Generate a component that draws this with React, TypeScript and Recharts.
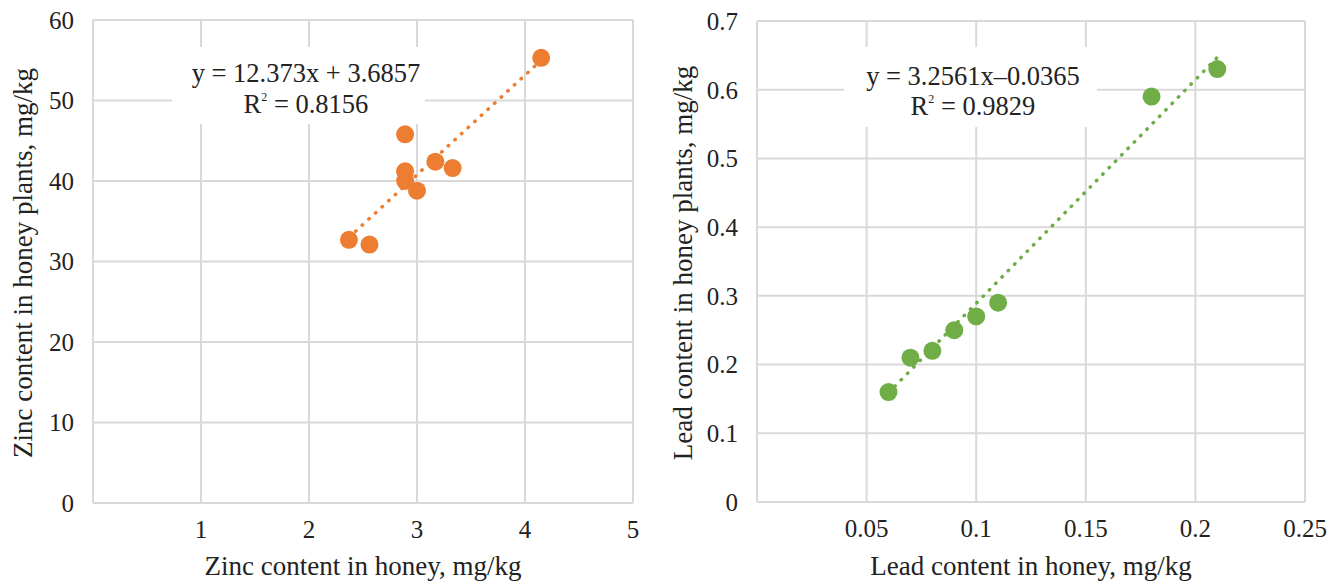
import { ScatterChart, Scatter, XAxis, YAxis, CartesianGrid } from 'recharts';

const ORANGE = '#ED7D31';
const GREEN = '#70AD47';
const GRID = '#d9d9d9';
const TEXT = '#222';
const FONT = 'Liberation Serif';

// Zinc: honey (x) vs honey plants (y), mg/kg
const zincHoney = [2.37, 2.56, 2.89, 2.89, 2.89, 3.0, 3.17, 3.33, 4.15];
const zincPlants = [32.7, 32.1, 45.8, 41.2, 40.0, 38.8, 42.4, 41.6, 55.3];
const zincTrendX = [2.37, 4.15];
const zincTrendY = [33.0, 55.0];
const zincXTicks = [0, 1, 2, 3, 4, 5];
const zincYTicks = [0, 10, 20, 30, 40, 50, 60];

// Lead: honey (x) vs honey plants (y), mg/kg
const leadHoney = [0.06, 0.07, 0.08, 0.09, 0.1, 0.11, 0.18, 0.21];
const leadPlants = [0.16, 0.21, 0.22, 0.25, 0.27, 0.29, 0.59, 0.63];
const leadTrendX = [0.06, 0.21];
const leadTrendY = [0.159, 0.647];
const leadXTicks = [0, 0.05, 0.1, 0.15, 0.2, 0.25];
const leadYTicks = [0, 0.1, 0.2, 0.3, 0.4, 0.5, 0.6, 0.7];

const zip = (xs: number[], ys: number[]) => xs.map((x, i) => ({ x, y: ys[i] }));
const first = (t: number[]) => t[0];
const last = (t: number[]) => t[t.length - 1];

const axisLine = { stroke: GRID, strokeWidth: 2 };
const tickStyle = { fontSize: 25, fill: TEXT, fontFamily: FONT };

function Dot(color: string) {
  return (p: any) => <circle cx={p.cx} cy={p.cy} r={9} fill={color} />;
}

interface PanelProps {
  left: number;
  width: number;
  yWidth: number;
  right: number;
  top: number;
  xHeight: number;
  xTicks: number[];
  yTicks: number[];
  points: { x: number; y: number }[];
  trend: { x: number; y: number }[];
  color: string;
}

function Panel(p: PanelProps) {
  return (
    <div style={{ position: 'absolute', left: p.left, top: 0 }}>
      <ScatterChart width={p.width} height={581} margin={{ top: p.top, right: p.right, bottom: 0, left: 0 }}>
        <CartesianGrid stroke={GRID} strokeWidth={2} />
        <XAxis
          type="number"
          dataKey="x"
          domain={[first(p.xTicks), last(p.xTicks)]}
          ticks={p.xTicks}
          interval={0}
          height={p.xHeight}
          tick={tickStyle}
          tickLine={false}
          tickSize={0}
          tickMargin={17}
          axisLine={axisLine}
          tickFormatter={(v: number) => (v === 0 ? '' : String(v))}
        />
        <YAxis
          type="number"
          dataKey="y"
          domain={[first(p.yTicks), last(p.yTicks)]}
          ticks={p.yTicks}
          interval={0}
          width={p.yWidth}
          tick={tickStyle}
          tickLine={false}
          tickSize={0}
          tickMargin={19}
          axisLine={axisLine}
        />
        {/* dotted linear trendline */}
        <Scatter
          data={p.trend}
          fill="none"
          isAnimationActive={false}
          line={{ stroke: p.color, strokeWidth: 3.5, strokeDasharray: '0.5 8.5', strokeLinecap: 'round' }}
          shape={() => <g />}
        />
        <Scatter data={p.points} fill={p.color} isAnimationActive={false} shape={Dot(p.color)} />
      </ScatterChart>
    </div>
  );
}

const txt = { fontFamily: FONT, fill: TEXT };

export default function App() {
  return (
    <div style={{ position: 'absolute', left: 0, top: 0, width: 1330, height: 581, background: '#fff' }}>
      <style>{`.recharts-wrapper text, .recharts-surface text { font-family: "Liberation Serif", serif !important; }`}</style>
      <Panel
        left={0}
        width={660}
        yWidth={93}
        right={27}
        top={20}
        xHeight={78}
        xTicks={zincXTicks}
        yTicks={zincYTicks}
        points={zip(zincHoney, zincPlants)}
        trend={zip(zincTrendX, zincTrendY)}
        color={ORANGE}
      />
      <Panel
        left={660}
        width={670}
        yWidth={97}
        right={25}
        top={21}
        xHeight={79}
        xTicks={leadXTicks}
        yTicks={leadYTicks}
        points={zip(leadHoney, leadPlants)}
        trend={zip(leadTrendX, leadTrendY)}
        color={GREEN}
      />
      <svg width={1330} height={581} style={{ position: 'absolute', left: 0, top: 0, pointerEvents: 'none' }}>
        {/* equation boxes */}
        <rect x={172} y={47} width={253} height={77} fill="#fff" />
        <text x={306} y={82} textAnchor="middle" fontSize={26.5} {...txt}>y = 12.373x + 3.6857</text>
        <text x={306} y={113} textAnchor="middle" fontSize={26.5} {...txt}>
          R<tspan fontSize={12} dy={-12}>2</tspan>
          <tspan dy={12}> = 0.8156</tspan>
        </text>
        <rect x={844} y={47} width={253} height={80} fill="#fff" />
        <text x={973} y={85} textAnchor="middle" fontSize={26.5} {...txt}>y = 3.2561x–0.0365</text>
        <text x={973} y={115} textAnchor="middle" fontSize={26.5} {...txt}>
          R<tspan fontSize={12} dy={-12}>2</tspan>
          <tspan dy={12}> = 0.9829</tspan>
        </text>
        {/* axis titles */}
        <text x={32} y={263} transform="rotate(-90 32 263)" textAnchor="middle" fontSize={27} {...txt}>
          Zinc content in honey plants, mg/kg
        </text>
        <text x={363} y={575} textAnchor="middle" fontSize={27} {...txt}>
          Zinc content in honey, mg/kg
        </text>
        <text x={692} y={263} transform="rotate(-90 692 263)" textAnchor="middle" fontSize={27} {...txt}>
          Lead content in honey plants, mg/kg
        </text>
        <text x={1031} y={575} textAnchor="middle" fontSize={27} {...txt}>
          Lead content in honey, mg/kg
        </text>
      </svg>
    </div>
  );
}
